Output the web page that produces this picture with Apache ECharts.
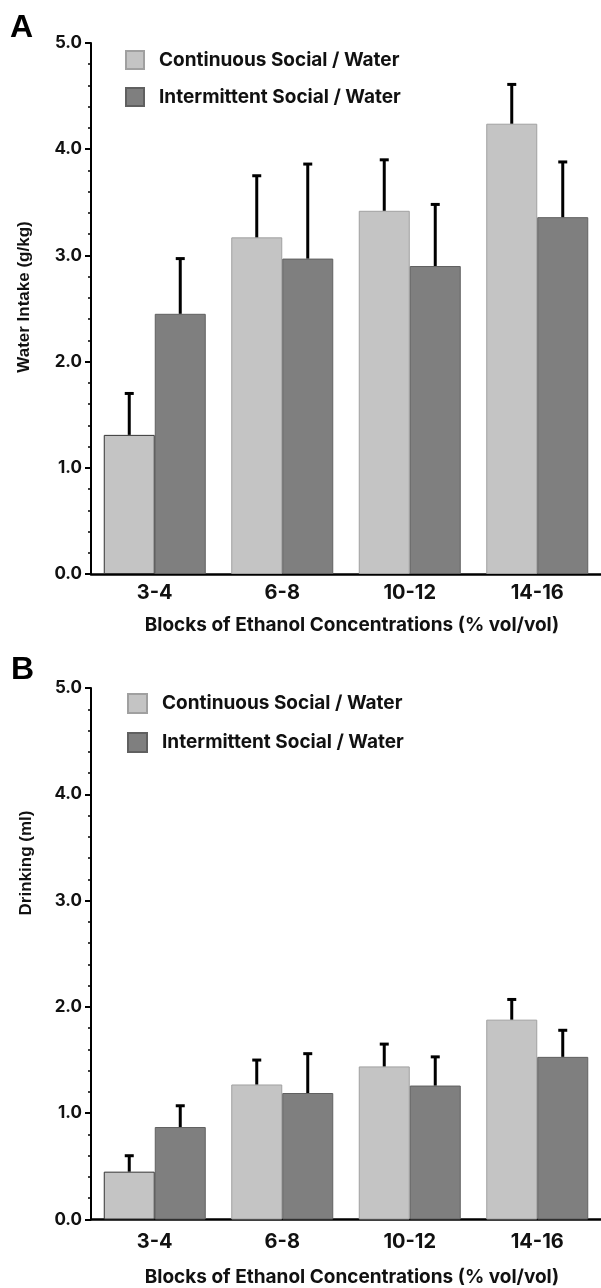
<!DOCTYPE html>
<html>
<head>
<meta charset="utf-8">
<script src="https://cdn.jsdelivr.net/npm/echarts@6/dist/echarts.min.js"></script>
<style>
html,body{margin:0;padding:0;background:#fff;}
#chart{width:601px;height:1288px;}
</style>
</head>
<body>
<div id="chart"></div>
<script>
// ---- data ----
const categories = ['3-4', '6-8', '10-12', '14-16'];
const seriesNames = ['Continuous Social / Water', 'Intermittent Social / Water'];
const yTicks = [0, 1, 2, 3, 4, 5];

// Panel A: Water Intake (g/kg)
const aContinuous = [1.31, 3.17, 3.42, 4.24];
const aContinuousErr = [0.39, 0.58, 0.48, 0.37];
const aIntermittent = [2.45, 2.97, 2.90, 3.36];
const aIntermittentErr = [0.52, 0.89, 0.58, 0.52];

// Panel B: Drinking (ml)
const bContinuous = [0.45, 1.27, 1.44, 1.88];
const bContinuousErr = [0.15, 0.23, 0.21, 0.19];
const bIntermittent = [0.87, 1.19, 1.26, 1.53];
const bIntermittentErr = [0.20, 0.37, 0.27, 0.25];

const xTitle = 'Blocks of Ethanol Concentrations (% vol/vol)';
const yTitleA = 'Water Intake (g/kg)';
const yTitleB = 'Drinking (ml)';

// ---- styling ----
const LIGHT = '#c4c4c4', DARK = '#7f7f7f';
const HFONT = 'Inter, "Liberation Sans", Arial, sans-serif';
const VFONT = '"Liberation Sans", Arial, sans-serif';

const chart = echarts.init(document.getElementById('chart'), null, {renderer: 'canvas'});

function barData(vals, firstBorder) {
  return vals.map((v, i) => (i === 0 && firstBorder) ? {value: v, itemStyle: {borderColor: firstBorder}} : v);
}
function errData(vals, errs) {
  return vals.map((v, i) => [i, v, errs[i]]);
}
function errSeries(idx, vals, errs, side) {
  return {
    type: 'custom', xAxisIndex: idx, yAxisIndex: idx, z: 5, silent: true,
    encode: {x: 0, y: 1},
    data: errData(vals, errs),
    renderItem: function (params, api) {
      const x = api.value(0), v = api.value(1), e = api.value(2);
      const p0 = api.coord([x, v]);
      const p1 = api.coord([x, v + e]);
      const band = api.size([1, 0])[0];
      const cx = p0[0] + side * band * 0.2;
      return {
        type: 'group',
        children: [
          {type: 'line', shape: {x1: cx, y1: p0[1], x2: cx, y2: p1[1]}, style: {stroke: '#000', lineWidth: 3}},
          {type: 'line', shape: {x1: cx - 4.5, y1: p1[1], x2: cx + 4.5, y2: p1[1]}, style: {stroke: '#000', lineWidth: 3}}
        ]
      };
    }
  };
}

function yAxis(idx) {
  return {
    type: 'value', gridIndex: idx, min: yTicks[0], max: yTicks[yTicks.length - 1], interval: 1,
    axisLine: {show: true, lineStyle: {color: '#000', width: 2}},
    axisTick: {show: true, length: 6, lineStyle: {color: '#000', width: 2}},
    minorTick: {show: true, splitNumber: 5, length: 3, lineStyle: {color: '#000', width: 1.5}},
    splitLine: {show: false},
    axisLabel: {formatter: v => v.toFixed(1), fontSize: 17, fontWeight: 'bold', color: '#111', margin: 9, fontFamily: HFONT}
  };
}
function xAxis(idx, labelMargin, nameGap) {
  return {
    type: 'category', gridIndex: idx, data: categories,
    axisLine: {show: true, lineStyle: {color: '#000', width: 2.5}},
    axisTick: {show: false},
    axisLabel: {fontSize: 20, fontWeight: 'bold', color: '#111', margin: labelMargin, fontFamily: HFONT},
    name: xTitle, nameLocation: 'middle', nameGap: nameGap,
    nameTextStyle: {fontSize: 19, fontWeight: 'bold', color: '#111', fontFamily: HFONT, padding: [0, 0, 0, 12]}
  };
}
function legend(left, top, size, gap) {
  return {
    orient: 'vertical', left: left, top: top, itemWidth: size, itemHeight: size, itemGap: gap,
    icon: 'rect', selectedMode: false, data: seriesNames,
    textStyle: {fontSize: 19, fontWeight: 'bold', color: '#111', fontFamily: HFONT, padding: [0, 0, 0, 10]}
  };
}
function bars(idx, vals, name, color, border, firstBorder) {
  return {
    type: 'bar', name: name, xAxisIndex: idx, yAxisIndex: idx,
    barGap: '0%', barCategoryGap: '20%',
    itemStyle: {color: color, borderColor: border, borderWidth: 1},
    data: barData(vals, firstBorder)
  };
}

const option = {
  backgroundColor: '#fff',
  animation: false,
  grid: [
    {left: 91, top: 43, width: 512, height: 531},
    {left: 91, top: 688, width: 512, height: 531.5}
  ],
  legend: [legend(120, 45, 18, 17), legend(122, 688, 19, 18)],
  xAxis: [xAxis(0, 9, 42), xAxis(1, 12, 48)],
  yAxis: [yAxis(0), yAxis(1)],
  graphic: [
    {type: 'text', left: 10, top: 12, style: {text: 'A', font: 'bold 32px ' + VFONT, fill: '#000'}},
    {type: 'text', left: 11, top: 654, style: {text: 'B', font: 'bold 32px ' + VFONT, fill: '#000'}},
    {type: 'text', x: 24, y: 297, rotation: Math.PI / 2,
     style: {text: yTitleA, font: 'bold 17px ' + VFONT, fill: '#111', align: 'center', verticalAlign: 'middle'}},
    {type: 'text', x: 26, y: 863, rotation: Math.PI / 2,
     style: {text: yTitleB, font: 'bold 17px ' + VFONT, fill: '#111', align: 'center', verticalAlign: 'middle'}}
  ],
  series: [
    bars(0, aContinuous, seriesNames[0], LIGHT, '#a0a0a0', '#333'),
    bars(0, aIntermittent, seriesNames[1], DARK, '#606060'),
    errSeries(0, aContinuous, aContinuousErr, -1),
    errSeries(0, aIntermittent, aIntermittentErr, 1),
    bars(1, bContinuous, seriesNames[0], LIGHT, '#a0a0a0', '#333'),
    bars(1, bIntermittent, seriesNames[1], DARK, '#606060'),
    errSeries(1, bContinuous, bContinuousErr, -1),
    errSeries(1, bIntermittent, bIntermittentErr, 1)
  ]
};
chart.setOption(option);
</script>
</body>
</html>
